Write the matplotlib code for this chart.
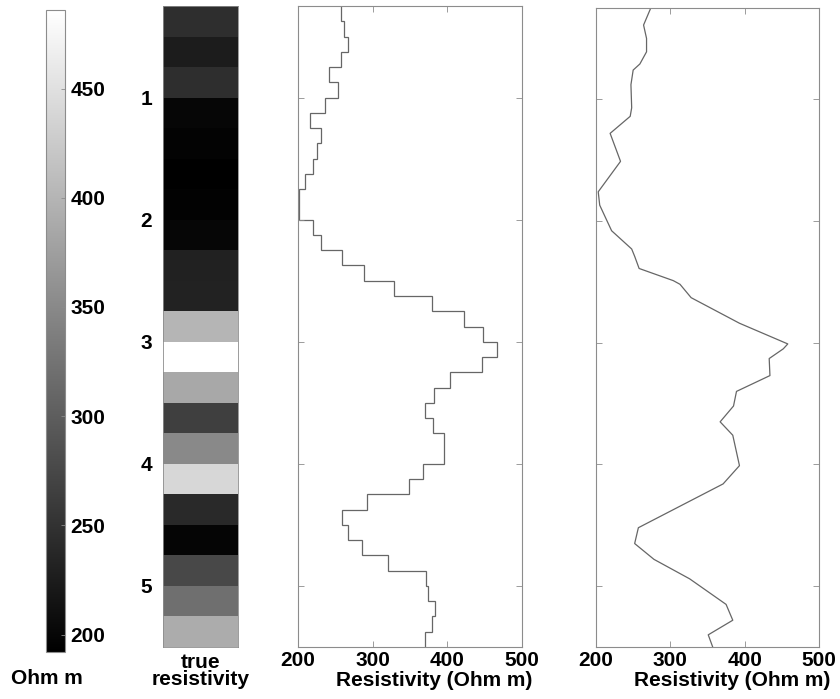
import numpy as np
import matplotlib
matplotlib.use('Agg')
import matplotlib.pyplot as plt

plt.rcParams['font.family'] = ['Liberation Sans', 'DejaVu Sans']
plt.rcParams['font.weight'] = 'bold'
plt.rcParams['axes.labelweight'] = 'bold'

# true model: 0.25 m layers from 0.25 to 5.5
true_edges = [0.25, 0.5, 0.75, 1.0, 1.25, 1.5, 1.75, 2.0, 2.25, 2.5, 2.75,
              3.0, 3.25, 3.5, 3.75, 4.0, 4.25, 4.5, 4.75, 5.0, 5.25, 5.5]
true_res = [245, 225, 245, 200, 196, 192, 195, 200, 230, 232, 400,
            486, 385, 265, 350, 440, 240, 198, 275, 320, 390]

# blocky inversion: 0.125 m layers
step_edges = [0.25, 0.375, 0.5, 0.625, 0.75, 0.875, 1.0, 1.125, 1.25, 1.375,
              1.5, 1.625, 1.75, 1.875, 2.0, 2.125, 2.25, 2.375, 2.5, 2.625,
              2.75, 2.875, 3.0, 3.125, 3.25, 3.375, 3.5, 3.625, 3.75, 3.875,
              4.0, 4.125, 4.25, 4.375, 4.5, 4.625, 4.75, 4.875, 5.0, 5.125,
              5.25, 5.375, 5.5]
step_res = [258, 262, 267, 258, 242, 253, 236, 216, 231, 225,
            220, 210, 202, 201, 220, 231, 259, 289, 328, 379,
            422, 448, 466, 446, 403, 382, 370, 381, 395, 395,
            367, 348, 293, 259, 267, 286, 320, 372, 374, 384,
            379, 370]

# smooth inversion
smooth_depth = [0.26, 0.39, 0.50, 0.61, 0.71, 0.76, 0.88, 1.07, 1.14, 1.28,
                1.51, 1.76, 1.87, 2.08, 2.23, 2.29, 2.39, 2.49, 2.52, 2.63,
                2.84, 3.01, 3.05, 3.13, 3.27, 3.40, 3.52, 3.65, 3.76, 4.01,
                4.16, 4.52, 4.65, 4.78, 4.94, 5.15, 5.28, 5.40, 5.50]
smooth_res = [273, 264, 268, 268, 259, 250, 247, 248, 246, 219,
              233, 203, 205, 221, 248, 252, 258, 304, 313, 328,
              393, 458, 452, 433, 434, 389, 385, 367, 384, 393,
              371, 257, 252, 278, 326, 375, 384, 351, 357]

cbar_ticks = [200, 250, 300, 350, 400, 450]
depth_ticks = [1, 2, 3, 4, 5]
res_ticks = [200, 300, 400, 500]

W, H = 840, 699


def box(l, t, r, b):
    return [l / W, 1 - b / H, (r - l) / W, (b - t) / H]


fig = plt.figure(figsize=(W / 100, H / 100), dpi=100)
cax = fig.add_axes(box(46, 10, 65, 652))
ax_img = fig.add_axes(box(163, 6, 238, 647))
ax_step = fig.add_axes(box(298, 6, 522, 647))
ax_sm = fig.add_axes(box(596, 8, 819, 647))

frame = '0.55'
line_col = '0.4'

# true resistivity column
mesh = ax_img.pcolormesh([0, 1], true_edges, np.array(true_res)[:, None],
                         cmap='gray', vmin=min(true_res), vmax=max(true_res))
ax_img.set_xlim(0, 1)
ax_img.set_ylim(5.5, 0.25)
ax_img.set_xticks([])
ax_img.set_yticks(depth_ticks)
ax_img.tick_params(axis='y', length=0, pad=8, labelsize=15)
for s in ax_img.spines.values():
    s.set_edgecolor(frame)
    s.set_linewidth(0.6)

cb = fig.colorbar(mesh, cax=cax)
cb.set_ticks(cbar_ticks)
cb.ax.tick_params(direction='in', length=3, width=0.6, color=frame,
                  labelsize=15, pad=4)
cb.outline.set_edgecolor(frame)
cb.outline.set_linewidth(0.8)

fig.text(47 / W, 1 - 678 / H, 'Ohm m', ha='center', va='center', fontsize=15)
fig.text(201 / W, 1 - 653 / H, 'true\nresistivity', ha='center', va='top',
         fontsize=15, linespacing=0.85)

# resistivity profiles
ax_step.stairs(step_res, step_edges, orientation='horizontal', baseline=None,
               color=line_col, linewidth=0.9)
ax_sm.plot(smooth_res, smooth_depth, color=line_col, linewidth=0.9)

for ax in (ax_step, ax_sm):
    ax.set_xlim(200, 500)
    ax.set_ylim(5.5, 0.25)
    ax.set_xticks(res_ticks)
    ax.set_yticks(depth_ticks)
    ax.tick_params(direction='in', length=4, width=0.6, color=frame,
                   top=True, right=True, labelleft=False, labelsize=15, pad=3)
    for s in ax.spines.values():
        s.set_edgecolor(frame)
        s.set_linewidth(0.8)
    ax.set_xlabel('Resistivity (Ohm m)', fontsize=15)
    ax.xaxis.set_label_coords(0.61, -0.038)

fig.savefig('out.png', dpi=100)
